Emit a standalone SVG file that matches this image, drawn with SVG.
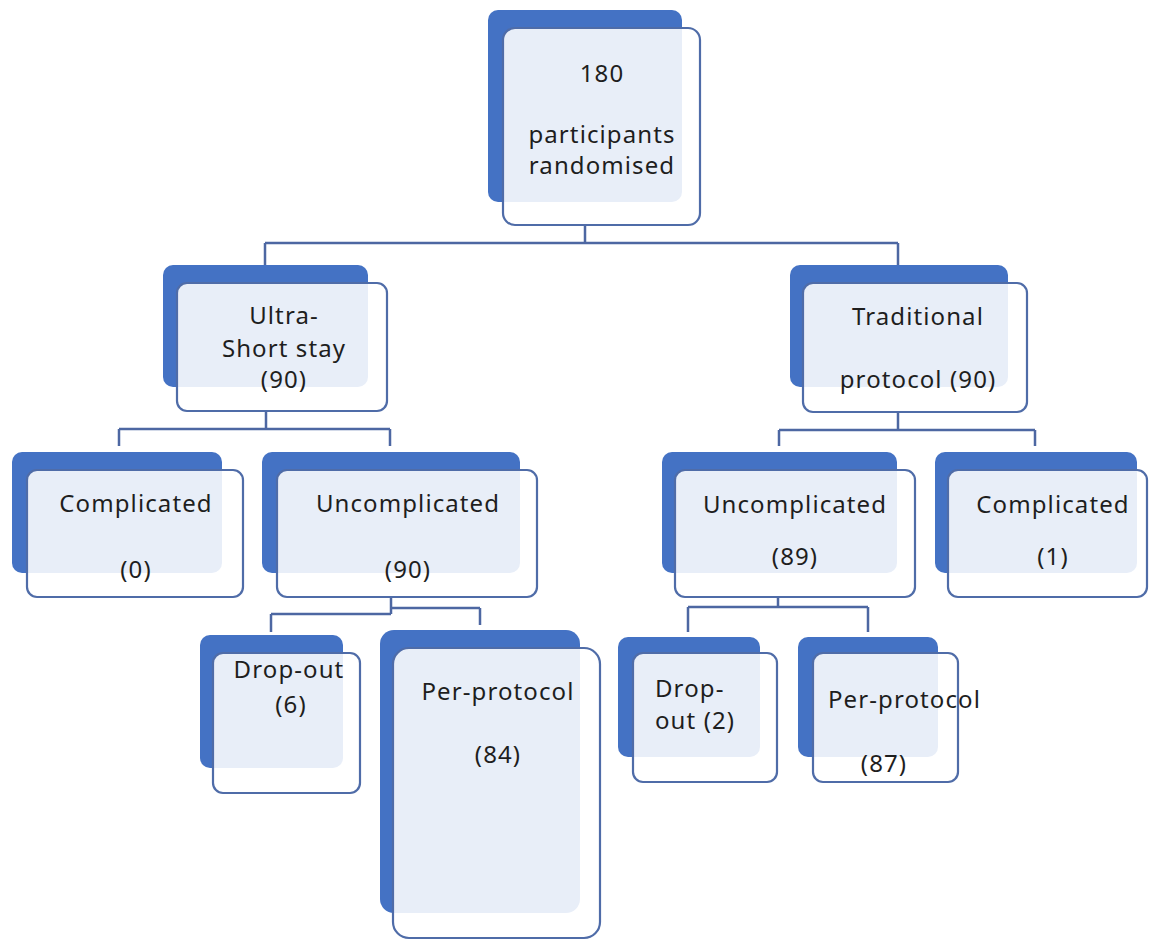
<svg xmlns="http://www.w3.org/2000/svg" width="1150" height="940" viewBox="0 0 1150 940">
<style>
.back{fill:#4472c4;}
.front{fill:#ffffff;fill-opacity:0.88;stroke:#4f6ca8;stroke-width:2.2;}
.conn{fill:none;stroke:#4d67a2;stroke-width:2.5;}
text{font-family:"Noto Sans","DejaVu Sans",sans-serif;font-size:24px;letter-spacing:1.1px;fill:#1e1e1e;}
.c{text-anchor:middle;}
</style>
<rect width="1150" height="940" fill="#ffffff"/>
<g id="connectors">
<path class="conn" d="M585,225 V243 M265,243 H898 M265,243 V265 M898,243 V265"/>
<path class="conn" d="M266,411 V429 M119,429 H390 M119,429 V446 M390,429 V446"/>
<path class="conn" d="M898,412 V430 M779,430 H1035 M779,430 V446 M1035,430 V446"/>
<path class="conn" d="M391,597 V614 M271,614 H391 M271,614 V632 M391,608 H480 M480,608 V625"/>
<path class="conn" d="M778,597 V607 M688,607 H868 M688,607 V632 M868,607 V632"/>
</g>
<g id="n-randomised">
<rect class="back" x="488" y="10" width="194" height="192" rx="10"/>
<rect class="front" x="503" y="28" width="197" height="197" rx="12"/>
<text class="c" x="602" y="82">180</text>
<text class="c" x="602" y="143">participants</text>
<text class="c" x="602" y="174">randomised</text>
</g>
<g id="n-ultra">
<rect class="back" x="163" y="265" width="205" height="122" rx="10"/>
<rect class="front" x="177" y="283" width="210" height="128" rx="10"/>
<text class="c" x="284" y="324">Ultra-</text>
<text class="c" x="284" y="357">Short stay</text>
<text class="c" x="284" y="388">(90)</text>
</g>
<g id="n-traditional">
<rect class="back" x="790" y="265" width="218" height="122" rx="10"/>
<rect class="front" x="803" y="283" width="224" height="129" rx="10"/>
<text class="c" x="918" y="325">Traditional</text>
<text class="c" x="918" y="388">protocol (90)</text>
</g>
<g id="n-complicated-left">
<rect class="back" x="12" y="452" width="210" height="121" rx="10"/>
<rect class="front" x="27" y="470" width="216" height="127" rx="10"/>
<text class="c" x="136" y="512">Complicated</text>
<text class="c" x="136" y="578">(0)</text>
</g>
<g id="n-uncomplicated-left">
<rect class="back" x="262" y="452" width="258" height="121" rx="10"/>
<rect class="front" x="277" y="470" width="260" height="127" rx="10"/>
<text class="c" x="408" y="512">Uncomplicated</text>
<text class="c" x="408" y="578">(90)</text>
</g>
<g id="n-uncomplicated-right">
<rect class="back" x="662" y="452" width="235" height="121" rx="10"/>
<rect class="front" x="675" y="470" width="240" height="127" rx="10"/>
<text class="c" x="795" y="513">Uncomplicated</text>
<text class="c" x="795" y="565">(89)</text>
</g>
<g id="n-complicated-right">
<rect class="back" x="935" y="452" width="202" height="121" rx="10"/>
<rect class="front" x="948" y="470" width="199" height="127" rx="10"/>
<text class="c" x="1053" y="513">Complicated</text>
<text class="c" x="1053" y="565">(1)</text>
</g>
<g id="n-dropout-left">
<rect class="back" x="200" y="635" width="143" height="133" rx="10"/>
<rect class="front" x="213" y="653" width="147" height="140" rx="10"/>
<text class="c" x="289" y="678">Drop-out</text>
<text class="c" x="291" y="713">(6)</text>
</g>
<g id="n-perprotocol-left">
<rect class="back" x="380" y="630" width="200" height="283" rx="14"/>
<rect class="front" x="393" y="648" width="207" height="290" rx="16"/>
<text class="c" x="498" y="700">Per-protocol</text>
<text class="c" x="498" y="763">(84)</text>
</g>
<g id="n-dropout-right">
<rect class="back" x="618" y="637" width="142" height="120" rx="10"/>
<rect class="front" x="633" y="653" width="144" height="129" rx="10"/>
<text x="655" y="697">Drop-</text>
<text x="655" y="729">out (2)</text>
</g>
<g id="n-perprotocol-right">
<rect class="back" x="798" y="637" width="140" height="120" rx="10"/>
<rect class="front" x="813" y="653" width="145" height="129" rx="10"/>
<text x="828" y="708">Per-protocol</text>
<text class="c" x="884" y="772">(87)</text>
</g>
</svg>
